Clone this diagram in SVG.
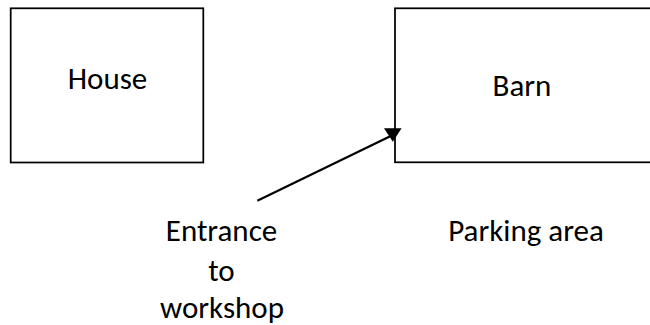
<svg xmlns="http://www.w3.org/2000/svg" width="650" height="325" viewBox="0 0 650 325">
  <style>
    .box { fill: #ffffff; stroke: #000000; stroke-width: 1.75; }
    .lbl { font-family: Carlito, Lato, "Liberation Sans", sans-serif; font-size: 31px; fill: #000000; text-anchor: middle; }
    .conn { stroke: #000000; stroke-width: 2.2; fill: none; }
  </style>
  <defs>
    <marker id="head" markerUnits="userSpaceOnUse" markerWidth="20" markerHeight="20" refX="0" refY="0" orient="90" overflow="visible">
      <path d="M6.7,0 L-6.7,8.8 L-6.7,-8.8 Z" fill="#000000"/>
    </marker>
  </defs>
  <rect width="650" height="325" fill="#ffffff"/>
  <g id="house">
    <rect class="box" x="10.7" y="8.3" width="192.6" height="154.2"/>
    <text class="lbl" x="107.5" y="89.3">House</text>
  </g>
  <g id="barn">
    <rect class="box" x="395" y="8.3" width="258" height="154"/>
    <text class="lbl" x="522" y="96">Barn</text>
  </g>
  <g id="entrance">
    <text class="lbl" x="221.5" y="241">Entrance</text>
    <text class="lbl" x="221.5" y="281">to</text>
    <text class="lbl" x="222" y="318">workshop</text>
  </g>
  <g id="parking">
    <text class="lbl" x="526" y="240.7">Parking area</text>
  </g>
  <g id="connectors">
    <line class="conn" x1="257.3" y1="200.7" x2="392.8" y2="135" marker-end="url(#head)"/>
  </g>
</svg>
